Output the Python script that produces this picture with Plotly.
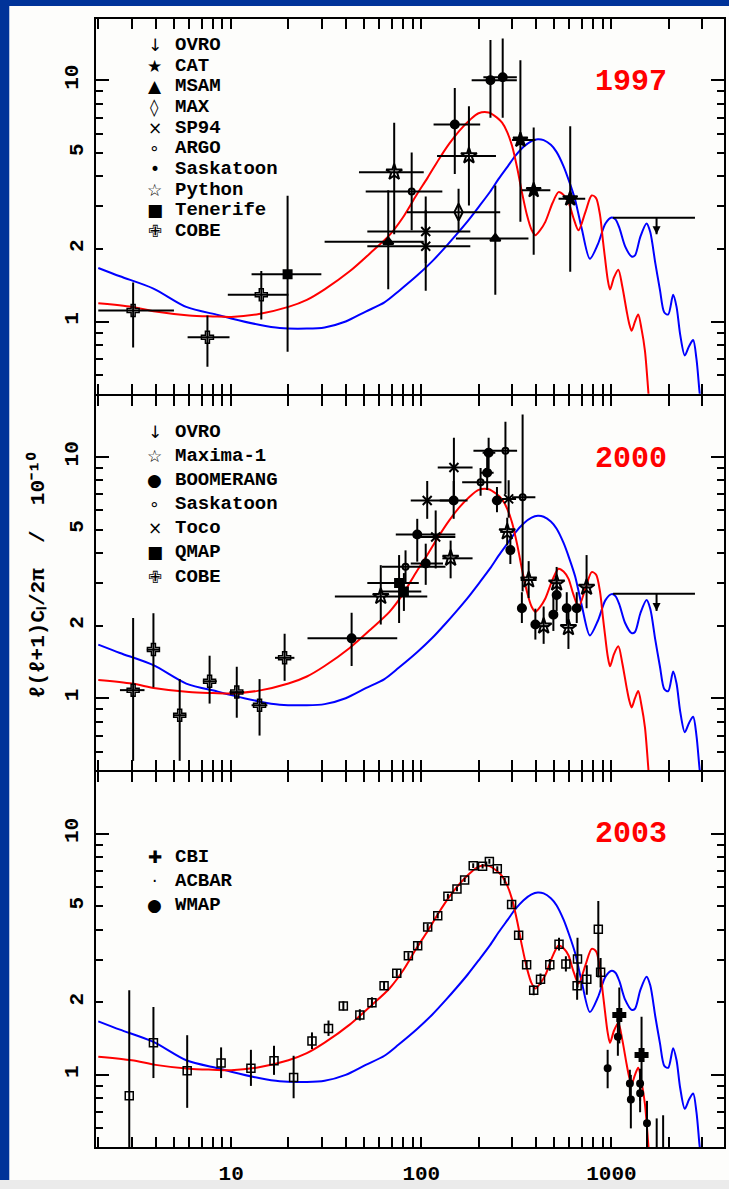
import plotly.graph_objects as go
from plotly.subplots import make_subplots

# ---------------- theory curves (multipole l, amplitude) ----------------
red_l = [2, 3, 4, 6, 8, 10, 14, 20, 25, 31, 42, 55, 68, 80, 94, 108, 124, 140, 158, 180,
         200, 226, 250, 266, 283, 300, 320, 338, 360, 380, 398, 420, 449, 490, 527, 560,
         594, 630, 671, 730, 787, 830, 871, 900, 925, 955, 983, 1030, 1087, 1140, 1202,
         1240, 1277, 1330, 1383, 1440, 1500, 1561, 1620]
red_v = [1.19, 1.15, 1.10, 1.06, 1.05, 1.045, 1.075, 1.15, 1.23, 1.36, 1.615, 1.95, 2.28,
         2.7, 3.33, 3.95, 4.72, 5.45, 6.16, 6.85, 7.3, 7.35, 7.0, 6.67, 6.1, 5.35, 4.3,
         3.44, 2.75, 2.4, 2.28, 2.38, 2.59, 3.1, 3.44, 3.35, 3.13, 2.7, 2.39, 2.85, 3.33,
         3.25, 2.76, 2.2, 1.83, 1.5, 1.357, 1.52, 1.64, 1.4, 1.106, 0.98, 0.916, 1.0,
         1.07, 0.93, 0.758, 0.52, 0.35]

blue_l = [2, 2.6, 3.9, 5.8, 8.5, 10, 14, 18, 25, 31, 40, 51, 64, 76, 95, 114, 135, 152,
          175, 200, 230, 255, 285, 312, 345, 380, 410, 440, 480, 514, 560, 600, 644, 700,
          770, 850, 930, 1003, 1050, 1100, 1180, 1277, 1330, 1420, 1530, 1600, 1700, 1800,
          1897, 1990, 2111, 2200, 2300, 2430, 2560, 2690, 2800, 2900, 3000]
blue_v = [1.667, 1.54, 1.37, 1.15, 1.065, 1.03, 0.97, 0.94, 0.935, 0.945, 1.0, 1.1, 1.2,
          1.336, 1.55, 1.775, 2.05, 2.28, 2.6, 2.98, 3.45, 3.9, 4.4, 4.86, 5.3, 5.6, 5.7,
          5.65, 5.4, 5.05, 4.4, 3.8, 3.2, 2.4, 1.82, 2.1, 2.55, 2.7, 2.65, 2.45, 2.05,
          1.86, 1.88, 2.25, 2.55, 2.35, 1.75, 1.35, 1.09, 1.07, 1.29, 1.15, 0.88, 0.723,
          0.79, 0.838, 0.7, 0.52, 0.4]

# ---------------- 1997 band powers ----------------
ovro97_l, ovro97_v, ovro97_llo, ovro97_lhi, ovro97_tip = [1727], [2.69], [1020], [2750], [2.3]

cat97_l = [332, 390, 607]
cat97_v = [5.66, 3.5, 3.23]
cat97_lo = [2.59, 1.89, 1.61]
cat97_hi = [12.1, 6.37, 6.45]
cat97_llo = [300, 338, 527]
cat97_lhi = [398, 477, 728]

msam97_l = [67, 245]
msam97_v = [2.14, 2.21]
msam97_lo = [1.36, 1.29]
msam97_hi = [3.5, 3.66]
msam97_llo = [31, 152]
msam97_lhi = [103, 366]

max97_l, max97_v, max97_lo, max97_hi, max97_llo, max97_lhi = [157], [2.84], [2.36], [3.55], [84], [260]

sp94_l = [105.5, 105.5]
sp94_v = [2.36, 2.05]
sp94_lo = [1.75, 1.34]
sp94_hi = [3.3, 2.9]
sp94_llo = [52, 52]
sp94_lhi = [181, 181]

argo_l, argo_v, argo_lo, argo_hi, argo_llo, argo_lhi = [89], [3.46], [2.39], [5.02], [51], [129]

sask97_l = [150, 231, 268]
sask97_v = [6.56, 10.0, 10.3]
sask97_lo = [4.09, 7.0, 7.0]
sask97_hi = [9.3, 14.7, 14.9]
sask97_llo = [116, 184, 212]
sask97_lhi = [204, 318, 318]

python_l = [72, 178]
python_v = [4.16, 4.86]
python_lo = [2.3, 3.03]
python_hi = [6.67, 7.8]
python_llo = [47, 121]
python_lhi = [103, 247]

tenerife_l, tenerife_v, tenerife_lo, tenerife_hi = [19.8], [1.57], [0.75], [3.32]
tenerife_llo, tenerife_lhi = [12.8], [29.8]

cobe97_l = [3.05, 7.5, 14.4]
cobe97_v = [1.11, 0.86, 1.29]
cobe97_lo = [0.78, 0.65, 1.02]
cobe97_hi = [1.45, 1.06, 1.62]
cobe97_llo = [2.0, 5.9, 9.6]
cobe97_lhi = [5.0, 9.8, 20.0]

# ---------------- 2000 band powers ----------------
ovro00_l, ovro00_v, ovro00_llo, ovro00_lhi, ovro00_tip = [1727], [2.71], [1020], [2750], [2.3]

maxima_l = [61.2, 142.6, 283, 367, 440, 515, 594, 740]
maxima_v = [2.64, 3.8, 4.89, 3.09, 1.99, 3.0, 1.96, 2.88]
maxima_lo = [2.02, 3.14, 4.3, 2.6, 1.68, 2.55, 1.6, 2.36]
maxima_hi = [3.56, 4.5, 5.6, 3.7, 2.4, 3.5, 2.35, 3.92]
maxima_llo = [35.1, 129, 260, 333, 410, 490, 560, 700]
maxima_lhi = [107.5, 186, 305, 404, 470, 540, 630, 780]

boom_l = [43, 95.2, 105.5, 148, 222, 226, 250, 294, 338, 398, 495, 515, 582, 657]
boom_v = [1.77, 4.77, 3.62, 6.6, 8.6, 10.4, 6.6, 4.11, 2.36, 2.02, 2.22, 2.68, 2.36, 2.36]
boom_lo = [1.36, 3.68, 2.95, 5.54, 7.3, 9.0, 5.9, 3.6, 2.05, 1.75, 1.9, 2.3, 2.05, 2.05]
boom_hi = [2.26, 5.54, 4.37, 7.95, 10.0, 12.0, 7.5, 4.7, 2.75, 2.35, 2.7, 3.1, 2.75, 2.75]
boom_llo = [25.2, 73.4, 88, 125, 205, 210, 235, 280, 320, 378, 470, 490, 555, 625]
boom_lhi = [74.7, 151, 130, 175, 240, 245, 268, 310, 358, 420, 520, 540, 610, 690]

sask00_l = [82.6, 205, 277, 341]
sask00_v = [3.51, 7.85, 10.6, 6.81]
sask00_lo = [3.0, 6.9, 7.0, 2.77]
sask00_hi = [4.1, 9.0, 14.0, 15.0]
sask00_llo = [62, 164, 188, 300]
sask00_lhi = [134, 264, 319, 398]

toco_l = [107.4, 119, 148.4, 288]
toco_v = [6.6, 4.66, 9.04, 6.7]
toco_lo = [5.54, 3.45, 6.9, 5.6]
toco_hi = [7.95, 6.0, 12.0, 8.0]
toco_llo = [88, 91, 122, 265]
toco_lhi = [149, 151, 186, 315]

qmap_l = [76.4, 81]
qmap_v = [3.0, 2.77]
qmap_lo = [2.05, 2.3]
qmap_hi = [3.92, 3.3]
qmap_llo = [52, 62]
qmap_lhi = [97, 100]

cobe00_l = [3.05, 3.9, 5.36, 7.7, 10.7, 14.1, 19.1]
cobe00_v = [1.08, 1.59, 0.85, 1.175, 1.06, 0.935, 1.47]
cobe00_lo = [0.55, 1.11, 0.55, 0.95, 0.83, 0.7, 1.18]
cobe00_hi = [2.15, 2.25, 1.2, 1.5, 1.35, 1.2, 1.85]
cobe00_llo = [2.6, 3.6, 5.0, 7.1, 9.8, 12.8, 17.0]
cobe00_lhi = [3.5, 4.2, 5.8, 8.4, 11.7, 15.5, 21.5]

# ---------------- 2003 band powers ----------------
wmap_l = [2.91, 3.9, 5.87, 8.85, 12.7, 16.8, 21.3, 26.6, 32.5, 38.9, 47.5, 55, 63.7, 74.3,
          85.5, 95.7, 108, 122, 138, 154, 169, 187.5, 210, 228, 251, 274.5, 298.5, 325,
          358, 390, 423.6, 474, 530, 576, 660, 663, 742, 853, 877]
wmap_v = [0.82, 1.36, 1.04, 1.12, 1.065, 1.145, 0.975, 1.38, 1.555, 1.93, 1.77, 1.99, 2.34,
          2.64, 3.12, 3.43, 4.1, 4.57, 5.5, 5.9, 6.43, 7.36, 7.32, 7.67, 7.15, 6.37, 5.08,
          3.79, 2.86, 2.24, 2.49, 2.86, 3.48, 2.88, 2.34, 3.02, 2.49, 4.01, 2.66]
wmap_lo = [0.5, 0.97, 0.73, 0.97, 0.9, 1.0, 0.8, 1.28, 1.45, 1.85, 1.68, 1.9, 2.25, 2.55,
           3.02, 3.32, 3.98, 4.45, 5.37, 5.77, 6.3, 7.2, 7.16, 7.5, 6.99, 6.2, 4.93, 3.66,
           2.76, 2.14, 2.36, 2.7, 3.28, 2.68, 2.05, 2.3, 2.15, 2.53, 2.3]
wmap_hi = [2.24, 1.91, 1.46, 1.3, 1.27, 1.32, 1.2, 1.5, 1.68, 2.02, 1.87, 2.1, 2.45, 2.74,
           3.22, 3.55, 4.23, 4.7, 5.63, 6.04, 6.57, 7.53, 7.49, 7.85, 7.32, 6.55, 5.24,
           3.93, 2.97, 2.35, 2.63, 3.02, 3.7, 3.1, 2.65, 3.7, 2.85, 5.26, 3.05]

cbi_l = [1100, 1440]
cbi_v = [1.77, 1.21]
cbi_lo = [1.35, 0.88]
cbi_hi = [2.3, 1.74]

acbar_l = [955, 1081, 1250, 1265, 1415, 1415, 1538, 1730, 1870]
acbar_v = [1.065, 1.44, 0.92, 0.79, 0.84, 0.92, 0.63, 0.45, 0.42]
acbar_lo = [0.88, 1.2, 0.8, 0.6, 0.7, 0.78, 0.5, 0.3, 0.3]
acbar_hi = [1.27, 1.7, 1.05, 1.0, 1.0, 1.06, 0.78, 0.66, 0.68]

# ---------------- layout geometry ----------------
W, H = 729, 1189
ML, MR, MT, MB = 96, 3, 19, 38
PW, PH = W - ML - MR, H - MT - MB


def fx(px):
    return (px - ML) / PW


def fy(py):
    return (H - MB - py) / PH


FONT = "Liberation Mono"
INK = "black"
PAPER = "#fdfdfb"

# a 2 px gap lets the frame lines of neighbouring panels fall on one line
fig = make_subplots(rows=3, cols=1, shared_xaxes=True, vertical_spacing=2 / PH)


def bars(v, lo, hi):
    return dict(type="data", symmetric=False,
                array=[h - c for c, h in zip(v, hi)],
                arrayminus=[c - q for c, q in zip(v, lo)],
                color=INK, thickness=2, width=0)


def add_points(row, name, l, v, lo, hi, symbol, size, llo=None, lhi=None,
               color=INK, lw=2):
    tr = go.Scatter(
        x=l, y=v, mode="markers", name=name, showlegend=False,
        marker=dict(symbol=symbol, size=size, color=color,
                    line=dict(color=color, width=lw)),
        error_y=bars(v, lo, hi),
    )
    if llo is not None:
        tr.error_x = bars(l, llo, lhi)
    fig.add_trace(tr, row=row, col=1)


def add_limit(row, l, v, llo, lhi, tip):
    fig.add_trace(go.Scatter(
        x=l, y=v, mode="markers", name="OVRO", showlegend=False,
        marker=dict(size=1, color="rgba(0,0,0,0)"),
        error_x=bars(l, llo, lhi),
        error_y=dict(type="data", symmetric=False, array=[0] * len(v),
                     arrayminus=[a - b for a, b in zip(v, tip)],
                     color=INK, thickness=2, width=0),
    ), row=row, col=1)
    fig.add_trace(go.Scatter(
        x=l, y=tip, mode="markers", showlegend=False,
        marker=dict(symbol="arrow-down", size=8, color=INK),
    ), row=row, col=1)


# theory curves drawn in every panel
for r in (1, 2, 3):
    fig.add_trace(go.Scatter(x=blue_l, y=blue_v, mode="lines", showlegend=False,
                             line=dict(color="#0000ff", width=2, shape="spline", smoothing=0.8)),
                  row=r, col=1)
    fig.add_trace(go.Scatter(x=red_l, y=red_v, mode="lines", showlegend=False,
                             line=dict(color="#ff0000", width=2, shape="spline", smoothing=0.8)),
                  row=r, col=1)

# 1997
add_limit(1, ovro97_l, ovro97_v, ovro97_llo, ovro97_lhi, ovro97_tip)
add_points(1, "CAT", cat97_l, cat97_v, cat97_lo, cat97_hi, "star", 11, cat97_llo, cat97_lhi)
add_points(1, "MSAM", msam97_l, msam97_v, msam97_lo, msam97_hi, "triangle-up", 9, msam97_llo, msam97_lhi)
add_points(1, "MAX", max97_l, max97_v, max97_lo, max97_hi, "diamond-tall-open", 12, max97_llo, max97_lhi)
add_points(1, "SP94", sp94_l, sp94_v, sp94_lo, sp94_hi, "x-thin-open", 9, sp94_llo, sp94_lhi)
add_points(1, "ARGO", argo_l, argo_v, argo_lo, argo_hi, "circle-open", 6, argo_llo, argo_lhi)
add_points(1, "Saskatoon", sask97_l, sask97_v, sask97_lo, sask97_hi, "circle", 8, sask97_llo, sask97_lhi)
add_points(1, "Python", python_l, python_v, python_lo, python_hi, "star-open", 12, python_llo, python_lhi)
add_points(1, "Tenerife", tenerife_l, tenerife_v, tenerife_lo, tenerife_hi, "square", 8, tenerife_llo, tenerife_lhi)
add_points(1, "COBE", cobe97_l, cobe97_v, cobe97_lo, cobe97_hi, "cross-open", 10, cobe97_llo, cobe97_lhi, lw=1.5)

# 2000
add_limit(2, ovro00_l, ovro00_v, ovro00_llo, ovro00_lhi, ovro00_tip)
add_points(2, "Maxima-1", maxima_l, maxima_v, maxima_lo, maxima_hi, "star-open", 12, maxima_llo, maxima_lhi)
add_points(2, "BOOMERANG", boom_l, boom_v, boom_lo, boom_hi, "circle", 8, boom_llo, boom_lhi)
add_points(2, "Saskatoon", sask00_l, sask00_v, sask00_lo, sask00_hi, "circle-open", 6, sask00_llo, sask00_lhi)
add_points(2, "Toco", toco_l, toco_v, toco_lo, toco_hi, "x-thin-open", 9, toco_llo, toco_lhi)
add_points(2, "QMAP", qmap_l, qmap_v, qmap_lo, qmap_hi, "square", 8, qmap_llo, qmap_lhi)
add_points(2, "COBE", cobe00_l, cobe00_v, cobe00_lo, cobe00_hi, "cross-open", 10, cobe00_llo, cobe00_lhi, lw=1.5)

# 2003
add_points(3, "WMAP", wmap_l, wmap_v, wmap_lo, wmap_hi, "square-open", 8, lw=1.5)
add_points(3, "ACBAR", acbar_l, acbar_v, acbar_lo, acbar_hi, "circle", 6)
add_points(3, "CBI", cbi_l, cbi_v, cbi_lo, cbi_hi, "cross", 10)

# ---------------- axes ----------------
x_minor = [2, 3, 4, 5, 6, 7, 8, 9, 20, 30, 40, 50, 60, 70, 80, 90,
           200, 300, 400, 500, 600, 700, 800, 900, 2000, 3000]
y_minor = [0.6, 0.7, 0.8, 0.9, 2, 3, 4, 5, 6, 7, 8, 9]
tickfont = dict(family=FONT, size=21, color=INK, weight="bold")

for i in (1, 2, 3):
    fig.update_xaxes(
        type="log", range=[0.289, 3.592], showgrid=False, zeroline=False,
        showline=True, linecolor=INK, linewidth=2, mirror="allticks",
        ticks="inside", ticklen=10, tickwidth=1.5, tickcolor=INK,
        tickvals=[10, 100, 1000], ticktext=["10", "100", "1000"],
        tickfont=tickfont, ticklabelstandoff=6,
        minor=dict(ticks="inside", ticklen=5, tickwidth=1.5, tickcolor=INK,
                   tickvals=x_minor, showgrid=False),
        row=i, col=1)
    fig.update_yaxes(
        type="log", range=[-0.299, 1.254], showgrid=False, zeroline=False,
        showline=True, linecolor=INK, linewidth=2, mirror="allticks",
        ticks="inside", ticklen=13, tickwidth=1.5, tickcolor=INK,
        tickvals=[1, 10], ticktext=["1", "10"], tickangle=-90,
        tickfont=tickfont, ticklabelstandoff=8,
        minor=dict(ticks="inside", ticklen=7, tickwidth=1.5, tickcolor=INK,
                   tickvals=y_minor, showgrid=False),
        row=i, col=1)

# extra label-only axes carrying the 2 and 5 labels
for k, (ov, anc) in enumerate((("y", "x"), ("y2", "x2"), ("y3", "x3")), start=4):
    fig.update_layout({f"yaxis{k}": dict(
        type="log", range=[-0.299, 1.254], overlaying=ov, anchor=anc, side="left",
        showgrid=False, zeroline=False, showline=False, ticks="",
        tickvals=[2, 5], ticktext=["2", "5"], tickangle=-90,
        tickfont=tickfont, ticklabelstandoff=8)})
    fig.add_trace(go.Scatter(x=[], y=[], xaxis=anc, yaxis=f"y{k}", showlegend=False))

# ---------------- legends, labels, frame ----------------
ann = []
legends = [
    (45, 20.74, [("↓", "OVRO"), ("★", "CAT"), ("▲", "MSAM"), ("◊", "MAX"), ("×", "SP94"),
                 ("∘", "ARGO"), ("•", "Saskatoon"), ("☆", "Python"), ("■", "Tenerife"),
                 ("✙", "COBE")]),
    (433.3, 24.2, [("↓", "OVRO"), ("☆", "Maxima-1"), ("●", "BOOMERANG"), ("∘", "Saskatoon"),
                   ("×", "Toco"), ("■", "QMAP"), ("✙", "COBE")]),
    (860, 24, [("✚", "CBI"), ("·", "ACBAR"), ("●", "WMAP")]),
]
for y0, dy, items in legends:
    for j, (glyph, name) in enumerate(items):
        yy = fy(y0 + j * dy)
        ann.append(dict(x=fx(155), y=yy, xref="paper", yref="paper", text=glyph,
                        showarrow=False, xanchor="center", yanchor="middle",
                        font=dict(family="DejaVu Sans", size=17, color=INK)))
        ann.append(dict(x=fx(173), y=yy, xref="paper", yref="paper", text=name,
                        showarrow=False, xanchor="left", yanchor="middle",
                        font=dict(family=FONT, size=19, color=INK, weight="bold")))

for year, yc in (("1997", 82), ("2000", 461), ("2003", 837)):
    ann.append(dict(x=fx(633), y=fy(yc), xref="paper", yref="paper", text=year,
                    showarrow=False, xanchor="center", yanchor="middle",
                    font=dict(family=FONT, size=30, color="#ff0000", weight="bold")))

ann.append(dict(x=fx(37), y=fy(577), xref="paper", yref="paper",
                text="ℓ(ℓ+1)Cₗ/2π  /  10⁻¹⁰",
                textangle=-90, showarrow=False, xanchor="center", yanchor="middle",
                font=dict(family=FONT, size=21, color=INK, weight="bold")))

# dark blue frame on the left and top edges, grey strip along the bottom
shapes = [
    dict(type="rect", xref="paper", yref="paper", x0=fx(-20), x1=fx(9), y0=fy(1184), y1=fy(-20),
         fillcolor="#003399", line=dict(width=0), layer="below"),
    dict(type="rect", xref="paper", yref="paper", x0=fx(-20), x1=fx(W + 20), y0=fy(6), y1=fy(-20),
         fillcolor="#003399", line=dict(width=0), layer="below"),
    dict(type="rect", xref="paper", yref="paper", x0=fx(-20), x1=fx(W + 20), y0=fy(H + 20), y1=fy(1184),
         fillcolor="#ebebeb", line=dict(width=0), layer="below"),
]

fig.update_layout(
    width=W, height=H, margin=dict(l=ML, r=MR, t=MT, b=MB, pad=0),
    paper_bgcolor=PAPER, plot_bgcolor=PAPER,
    showlegend=False, annotations=ann, shapes=shapes,
)

fig.write_html("out.html")
